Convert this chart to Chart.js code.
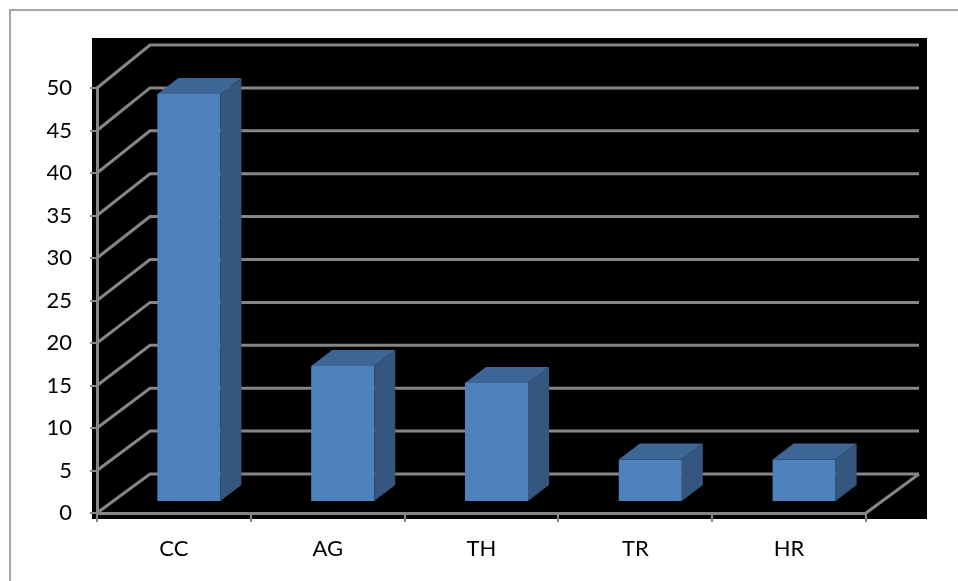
<!DOCTYPE html>
<html>
<head>
<meta charset="utf-8">
<script src="https://cdn.jsdelivr.net/npm/chart.js@4.4.1/dist/chart.umd.min.js"></script>
<style>
  html, body { margin: 0; padding: 0; background: #fff; overflow: hidden; }
  #wrap { position: relative; width: 958px; height: 581px; }
</style>
</head>
<body>
<div id="wrap"><canvas id="c" width="958" height="581"></canvas></div>
<script>
// Categories and their counts
const categories = ['CC', 'AG', 'TH', 'TR', 'HR'];
const counts = [48, 16, 14, 5, 5];
// Value axis range and step
const yMin = 0;
const yMax = 50;
const yStep = 5;

// Styling for the pseudo-3D column look
const GRID = '#868686';
const FRONT = '#4F81BD';
const TOP = '#3D6596';
const SIDE = '#34567F';
const WALL = { dx: 53, dy: -39, dyExtra: -4 };   // offset of the back wall
const BAR_SHIFT = { dx: 15, dy: -11 };           // where the columns sit in depth
const BAR_DEPTH = { dx: 21, dy: -16 };           // thickness of each column

function backPoint(area, x, y) {
  const frac = (area.bottom - y) / (area.bottom - area.top);
  return [x + WALL.dx, y + WALL.dy + WALL.dyExtra * frac];
}

const frame3d = {
  id: 'frame3d',
  beforeDraw(chart) {
    const { ctx, chartArea: a } = chart;
    ctx.save();
    ctx.fillStyle = '#fff';
    ctx.fillRect(0, 0, chart.width, chart.height);
    // outer frame (top and left edges)
    ctx.strokeStyle = '#a6a6a6';
    ctx.lineWidth = 2;
    ctx.beginPath();
    ctx.moveTo(10, chart.height);
    ctx.lineTo(10, 10);
    ctx.lineTo(chart.width, 10);
    ctx.stroke();
    // black plot backdrop
    ctx.fillStyle = '#000';
    ctx.fillRect(a.left - 5, a.top - 50, a.width + 66, a.height + 6 + 50);
    ctx.restore();
  },
  beforeDatasetsDraw(chart) {
    const { ctx, chartArea: a, scales: { y } } = chart;
    ctx.save();
    ctx.strokeStyle = GRID;
    ctx.lineWidth = 3;
    ctx.lineJoin = 'miter';
    y.ticks.forEach(t => {
      const py = y.getPixelForValue(t.value);
      const [bx, by] = backPoint(a, a.left, py);
      const [ex, ey] = backPoint(a, a.right, py);
      ctx.beginPath();
      ctx.moveTo(a.left, py);
      ctx.lineTo(bx, by);
      ctx.lineTo(ex, ey);
      ctx.stroke();
    });
    // right edge of the floor
    const [fx, fy] = backPoint(a, a.right, a.bottom);
    ctx.beginPath();
    ctx.moveTo(a.right, a.bottom);
    ctx.lineTo(fx, fy);
    ctx.stroke();
    ctx.restore();
    // columns are drawn set back into the depth of the plot
    ctx.save();
    ctx.translate(BAR_SHIFT.dx, BAR_SHIFT.dy);
  },
  afterDatasetsDraw(chart) {
    const ctx = chart.ctx;
    const meta = chart.getDatasetMeta(0);
    const { dx, dy } = BAR_DEPTH;
    meta.data.forEach(bar => {
      const { x, y, base, width } = bar.getProps(['x', 'y', 'base', 'width'], true);
      const l = x - width / 2, r = x + width / 2;
      ctx.fillStyle = SIDE;
      ctx.beginPath();
      ctx.moveTo(r, y);
      ctx.lineTo(r + dx, y + dy);
      ctx.lineTo(r + dx, base + dy);
      ctx.lineTo(r, base);
      ctx.closePath();
      ctx.fill();
      ctx.fillStyle = TOP;
      ctx.beginPath();
      ctx.moveTo(l, y);
      ctx.lineTo(l + dx, y + dy);
      ctx.lineTo(r + dx, y + dy);
      ctx.lineTo(r, y);
      ctx.closePath();
      ctx.fill();
    });
    ctx.restore();
  }
};

const FONT = { family: 'Lato, "Open Sans", sans-serif', size: 22 };

new Chart(document.getElementById('c'), {
  type: 'bar',
  data: {
    labels: categories,
    datasets: [{
      data: counts,
      backgroundColor: FRONT,
      borderWidth: 0,
      barPercentage: 0.41,
      categoryPercentage: 1.0,
      clip: false
    }]
  },
  options: {
    responsive: false,
    animation: false,
    devicePixelRatio: 1,
    layout: { padding: { top: 88, right: 92, bottom: 0, left: 0 } },
    plugins: { legend: { display: false }, tooltip: { enabled: false } },
    scales: {
      x: {
        grid: { offset: true, drawOnChartArea: false, tickLength: 9, color: GRID, lineWidth: 2 },
        border: { display: true, color: GRID, width: 3 },
        ticks: { color: '#000', font: FONT, padding: 14, maxRotation: 0 },
        afterFit(scale) { scale.height = 68; }
      },
      y: {
        min: yMin,
        max: yMax,
        grid: { drawOnChartArea: false, tickLength: 7, color: GRID, lineWidth: 2 },
        border: { display: true, color: GRID, width: 3 },
        ticks: { stepSize: yStep, color: '#000', font: FONT, padding: 18 },
        afterFit(scale) { scale.width = 97; }
      }
    }
  },
  plugins: [frame3d]
});
</script>
</body>
</html>
